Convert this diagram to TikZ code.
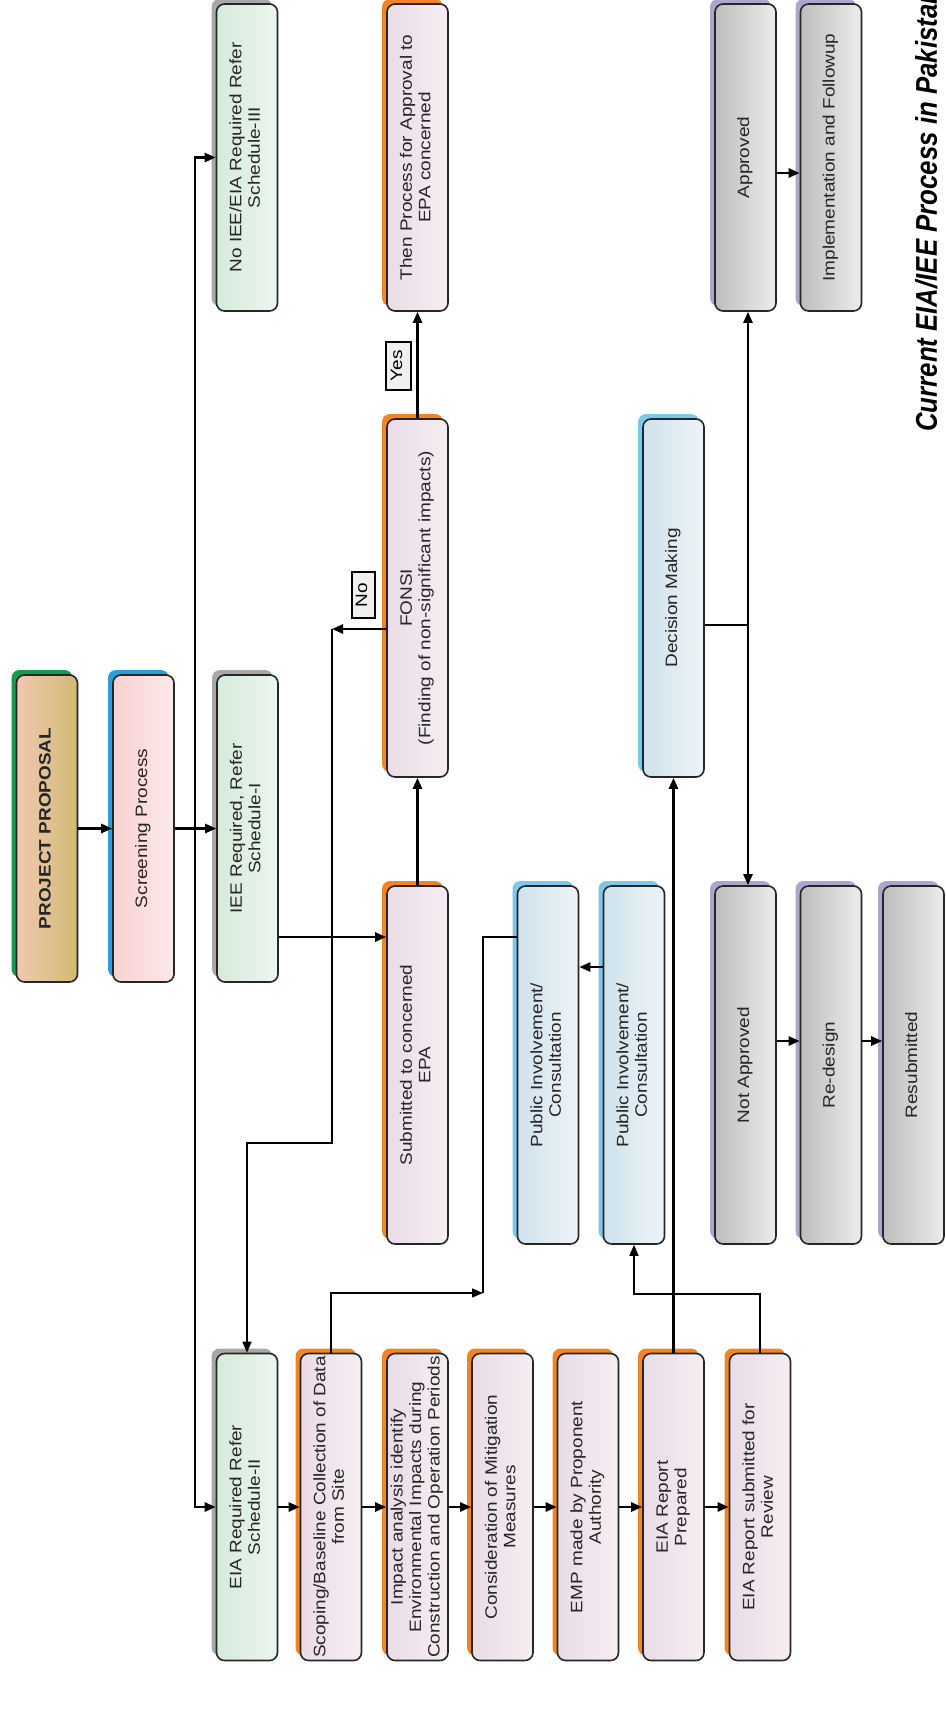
\documentclass[tikz,border=0pt]{standalone}
\usepackage{fontspec}
\setmainfont{Liberation Sans}
\usepackage{graphicx}
\usetikzlibrary{arrows.meta,shadows,calc}
\definecolor{shOrange}{HTML}{F08526}
\definecolor{shGreen}{HTML}{189A4E}
\definecolor{shBlue}{HTML}{2E9BDA}
\definecolor{shGray}{HTML}{A8A8A8}
\definecolor{shLBlue}{HTML}{7CC8EC}
\definecolor{shPurple}{HTML}{ADA6CC}
\definecolor{ppL}{HTML}{F2C8B0}
\definecolor{ppR}{HTML}{D0BA74}
\definecolor{spL}{HTML}{FAD2D3}
\definecolor{spR}{HTML}{FCE8E8}
\definecolor{gnL}{HTML}{D6EBDB}
\definecolor{gnR}{HTML}{EBF5EE}
\definecolor{orL}{HTML}{EADCE5}
\definecolor{orR}{HTML}{F6EEF3}
\definecolor{blL}{HTML}{CFE2EC}
\definecolor{blR}{HTML}{EEF4F8}
\definecolor{gyL}{HTML}{BDBDBD}
\definecolor{gyR}{HTML}{EDEDED}
\newcommand{\rt}[1]{\rotatebox{90}{\scalebox{1.15}[1]{\begin{tabular}{@{}c@{}}#1\end{tabular}}}}
\begin{document}
\begin{tikzpicture}[x=1pt,y=-1pt,
  font=\fontsize{16.5}{18.5}\selectfont,
  box/.style={draw=black!85, line width=1.6pt, rounded corners=8pt, inner sep=0pt, text=black!85},
  short/.style={minimum width=61pt, minimum height=307pt},
  long/.style={minimum width=61pt, minimum height=358pt},
  ppbox/.style={box, left color=ppL, right color=ppR,
     general shadow={fill=shGreen, shadow xshift=-5pt, shadow yshift=5pt}},
  spbox/.style={box, left color=spL, right color=spR,
     general shadow={fill=shBlue, shadow xshift=-5pt, shadow yshift=5pt}},
  grnbox/.style={box, left color=gnL, right color=gnR,
     general shadow={fill=shGray, shadow xshift=-5pt, shadow yshift=5pt}},
  orgbox/.style={box, left color=orL, right color=orR,
     general shadow={fill=shOrange, shadow xshift=-5pt, shadow yshift=5pt}},
  blubox/.style={box, left color=blL, right color=blR,
     general shadow={fill=shLBlue, shadow xshift=-5pt, shadow yshift=5pt}},
  graybox/.style={box, left color=gyL, right color=gyR,
     general shadow={fill=shPurple, shadow xshift=-5pt, shadow yshift=5pt}},
  lbl/.style={draw=black, line width=2pt, fill=gray!12, inner sep=0pt},
  ln/.style={line width=2.4pt},
  tln/.style={line width=1.5pt},
  arr/.style={line width=2.4pt, -{Triangle[length=11pt,width=9pt]}},
  tarr/.style={line width=1.5pt, -{Triangle[length=11pt,width=9pt]}}
]
\fill[white] (0,0) rectangle (945,1720);
\useasboundingbox (0,0) rectangle (945,1720);

% top row
\node[grnbox,short] (noiee) at (247,157.5) {\rt{No IEE/EIA Required Refer\\Schedule-III}};
\node[orgbox,short] (then) at (417.5,157.5) {\rt{Then Process for Approval to\\EPA concerned}};
\node[graybox,short] (appr) at (745.5,157.5) {\rt{Approved}};
\node[graybox,short] (impl) at (831,157.5) {\rt{Implementation and Followup}};

% second row
\node[ppbox,short] (pp) at (47,828.5) {\rt{\bfseries PROJECT PROPOSAL}};
\node[spbox,short] (sp) at (143.5,828.5) {\rt{Screening Process}};
\node[grnbox,short] (iee) at (247.5,828.5) {\rt{IEE Required, Refer\\Schedule-I}};

\node[orgbox,long] (fonsi) at (417.5,598) {\rt{FONSI\\(Finding of non-significant impacts)}};
\node[blubox,long] (dec) at (673.5,598) {\rt{Decision Making}};

% third row
\node[orgbox,long] (sub) at (417.5,1065) {\rt{Submitted to concerned\\EPA}};
\node[blubox,long] (pi1) at (548,1065) {\rt{Public Involvement/\\Consultation}};
\node[blubox,long] (pi2) at (634,1065) {\rt{Public Involvement/\\Consultation}};
\node[graybox,long] (na) at (745.5,1065) {\rt{Not Approved}};
\node[graybox,long] (rd) at (831,1065) {\rt{Re-design}};
\node[graybox,long] (rs) at (913.5,1065) {\rt{Resubmitted}};

% bottom row
\node[grnbox,short] (eia) at (247,1507) {\rt{EIA Required Refer\\Schedule-II}};
\node[orgbox,short] (scop) at (331,1507) {\rt{Scoping/Baseline Collection of Data\\from Site}};
\node[orgbox,short] (imp) at (417.5,1507) {\rt{Impact analysis identify\\Environmental Impacts during\\Construction and Operation Periods}};
\node[orgbox,short] (cons) at (502.5,1507) {\rt{Consideration of Mitigation\\Measures}};
\node[orgbox,short] (emp) at (588,1507) {\rt{EMP made by Proponent\\Authority}};
\node[orgbox,short] (prep) at (673.5,1507) {\rt{EIA Report\\Prepared}};
\node[orgbox,short] (rev) at (760,1507) {\rt{EIA Report submitted for\\Review}};

% labels
\node[lbl, minimum width=25pt, minimum height=48pt] (yes) at (398.5,366) {\rt{Yes}};
\node[lbl, minimum width=23pt, minimum height=46pt] (no) at (363.5,595) {\rt{No}};

% caption
\node[inner sep=0pt, anchor=south east, font=\fontsize{30}{32}\selectfont\bfseries\itshape] (cap) at (937,432)
  {\rotatebox{90}{\scalebox{0.86}[1]{\raisebox{0pt}[\height][0pt]{Current EIA/IEE Process in Pakistan}}}};

% connectors
\draw[arr] (pp) -- (sp);
\coordinate (br) at (195,828.5);
\draw[ln] (sp) -- (br);
\draw[arr] (br) -- (iee);
\draw[arr] (br) |- (noiee.west);
\draw[arr] (br) |- (eia.west);

\coordinate (ieeo) at (278,937);
\draw[arr] (iee.east |- ieeo) -- (sub.west |- ieeo);
\draw[arr] (sub) -- (fonsi);
\draw[arr] (fonsi) -- (then);

\coordinate (nc) at (332,629);
\draw[arr] (fonsi.west |- nc) -- (nc);
\coordinate (nc2) at (247,1143);
\draw[tarr] (nc) |- (nc2) -- (eia.north);

\foreach \a/\b in {eia/scop, scop/imp, imp/cons, cons/emp, emp/prep, prep/rev}
  \draw[arr] (\a) -- (\b);

\coordinate (sk) at (483,1293);
\draw[tarr] (scop.north) |- (sk);
\draw[tln] (sk) |- (pi1.west |- ieeo);

\coordinate (pij) at (603,967);
\draw[arr] (pi2.west |- pij) -- (pi1.east |- pij);

\draw[arr] (prep) -- (dec);
\coordinate (rv) at (634,1294);
\draw[tarr] (rev.north) |- (rv) -- (pi2.south);

\coordinate (dj) at (748,625);
\draw[ln] (dec.east |- dj) -- (dj);
\draw[arr] (dj) -- (dj |- appr.south);
\draw[arr] (dj) -- (dj |- na.north);

\coordinate (ai) at (776,173);
\draw[arr] (appr.east |- ai) -- (impl.west |- ai);
\coordinate (nr) at (776,1041);
\draw[arr] (na.east |- nr) -- (rd.west |- nr);
\draw[arr] (rd.east |- nr) -- (rs.west |- nr);
\end{tikzpicture}
\end{document}
